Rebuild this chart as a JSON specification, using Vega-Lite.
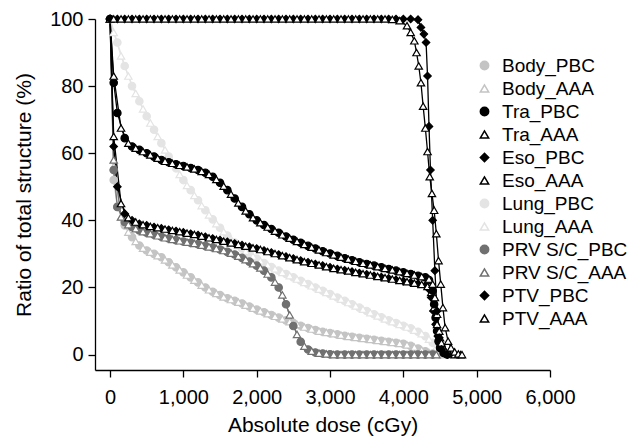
{
"$schema": "https://vega.github.io/schema/vega-lite/v6.json",
"width": 455,
"height": 351,
"autosize": {"type": "none"},
"padding": {"left": 95, "top": 19, "right": 89, "bottom": 71},
"background": "white",
"config": {
  "font": "Liberation Sans",
  "view": {"stroke": null},
  "axis": {"grid": false, "domainColor": "#000", "domainWidth": 1.3, "tickColor": "#000", "tickWidth": 1.3, "tickSize": 7, "labelFontSize": 20, "labelColor": "#000", "titleFontSize": 21, "titleFontWeight": "normal", "titleColor": "#000", "labelFont": "Liberation Sans", "titleFont": "Liberation Sans", "labelOverlap": false, "labelFlush": false},
  "legend": {"labelFontSize": 19, "labelColor": "#000", "labelFont": "Liberation Sans"}
},
"data": {"values": [
{"s":"Lung_PBC","d":0,"v":100},{"s":"Lung_PBC","d":100,"v":93},{"s":"Lung_PBC","d":200,"v":86},{"s":"Lung_PBC","d":300,"v":80},{"s":"Lung_PBC","d":400,"v":75.5},{"s":"Lung_PBC","d":500,"v":71},{"s":"Lung_PBC","d":600,"v":67},{"s":"Lung_PBC","d":700,"v":63},{"s":"Lung_PBC","d":800,"v":59},{"s":"Lung_PBC","d":900,"v":55.5},{"s":"Lung_PBC","d":1000,"v":52},{"s":"Lung_PBC","d":1100,"v":49},{"s":"Lung_PBC","d":1200,"v":46},{"s":"Lung_PBC","d":1300,"v":43},{"s":"Lung_PBC","d":1400,"v":40.3},{"s":"Lung_PBC","d":1500,"v":37.8},{"s":"Lung_PBC","d":1600,"v":35.5},{"s":"Lung_PBC","d":1700,"v":33.4},{"s":"Lung_PBC","d":1800,"v":31.6},{"s":"Lung_PBC","d":1900,"v":30},{"s":"Lung_PBC","d":2000,"v":28.6},{"s":"Lung_PBC","d":2100,"v":27.3},{"s":"Lung_PBC","d":2200,"v":26.1},{"s":"Lung_PBC","d":2300,"v":25},{"s":"Lung_PBC","d":2400,"v":24},{"s":"Lung_PBC","d":2500,"v":23},{"s":"Lung_PBC","d":2600,"v":22},{"s":"Lung_PBC","d":2700,"v":21},{"s":"Lung_PBC","d":2800,"v":20},{"s":"Lung_PBC","d":2900,"v":19},{"s":"Lung_PBC","d":3000,"v":18},{"s":"Lung_PBC","d":3100,"v":17},{"s":"Lung_PBC","d":3200,"v":16},{"s":"Lung_PBC","d":3300,"v":15},{"s":"Lung_PBC","d":3400,"v":14},{"s":"Lung_PBC","d":3500,"v":13},{"s":"Lung_PBC","d":3600,"v":12},{"s":"Lung_PBC","d":3700,"v":11.1},{"s":"Lung_PBC","d":3800,"v":10.2},{"s":"Lung_PBC","d":3900,"v":9.4},{"s":"Lung_PBC","d":4000,"v":8.6},{"s":"Lung_PBC","d":4100,"v":7.8},{"s":"Lung_PBC","d":4200,"v":6.8},{"s":"Lung_PBC","d":4300,"v":5.5},{"s":"Lung_PBC","d":4400,"v":3.5},{"s":"Lung_PBC","d":4500,"v":0.8},{"s":"Lung_PBC","d":4600,"v":0},
{"s":"Lung_AAA","d":0,"v":100},{"s":"Lung_AAA","d":50,"v":96},{"s":"Lung_AAA","d":150,"v":89},{"s":"Lung_AAA","d":250,"v":83},{"s":"Lung_AAA","d":350,"v":77.8},{"s":"Lung_AAA","d":450,"v":73.2},{"s":"Lung_AAA","d":550,"v":69},{"s":"Lung_AAA","d":650,"v":65},{"s":"Lung_AAA","d":750,"v":61},{"s":"Lung_AAA","d":850,"v":57.2},{"s":"Lung_AAA","d":950,"v":53.7},{"s":"Lung_AAA","d":1050,"v":50.4},{"s":"Lung_AAA","d":1150,"v":47.4},{"s":"Lung_AAA","d":1250,"v":44.4},{"s":"Lung_AAA","d":1350,"v":41.6},{"s":"Lung_AAA","d":1450,"v":39},{"s":"Lung_AAA","d":1550,"v":36.6},{"s":"Lung_AAA","d":1650,"v":34.4},{"s":"Lung_AAA","d":1750,"v":32.5},{"s":"Lung_AAA","d":1850,"v":30.8},{"s":"Lung_AAA","d":1950,"v":29.3},{"s":"Lung_AAA","d":2050,"v":27.9},{"s":"Lung_AAA","d":2150,"v":26.7},{"s":"Lung_AAA","d":2250,"v":25.5},{"s":"Lung_AAA","d":2350,"v":24.5},{"s":"Lung_AAA","d":2450,"v":23.5},{"s":"Lung_AAA","d":2550,"v":22.5},{"s":"Lung_AAA","d":2650,"v":21.5},{"s":"Lung_AAA","d":2750,"v":20.5},{"s":"Lung_AAA","d":2850,"v":19.5},{"s":"Lung_AAA","d":2950,"v":18.5},{"s":"Lung_AAA","d":3050,"v":17.5},{"s":"Lung_AAA","d":3150,"v":16.5},{"s":"Lung_AAA","d":3250,"v":15.5},{"s":"Lung_AAA","d":3350,"v":14.5},{"s":"Lung_AAA","d":3450,"v":13.5},{"s":"Lung_AAA","d":3550,"v":12.5},{"s":"Lung_AAA","d":3650,"v":11.5},{"s":"Lung_AAA","d":3750,"v":10.6},{"s":"Lung_AAA","d":3850,"v":9.8},{"s":"Lung_AAA","d":3950,"v":9},{"s":"Lung_AAA","d":4050,"v":8.2},{"s":"Lung_AAA","d":4150,"v":7.3},{"s":"Lung_AAA","d":4250,"v":6.2},{"s":"Lung_AAA","d":4350,"v":4.6},{"s":"Lung_AAA","d":4450,"v":2.2},{"s":"Lung_AAA","d":4550,"v":0.3},{"s":"Lung_AAA","d":4650,"v":0},
{"s":"Body_PBC","d":0,"v":100},{"s":"Body_PBC","d":50,"v":52},{"s":"Body_PBC","d":100,"v":44},{"s":"Body_PBC","d":200,"v":38.5},{"s":"Body_PBC","d":300,"v":35},{"s":"Body_PBC","d":400,"v":32.5},{"s":"Body_PBC","d":500,"v":31},{"s":"Body_PBC","d":600,"v":30},{"s":"Body_PBC","d":700,"v":29},{"s":"Body_PBC","d":800,"v":27.5},{"s":"Body_PBC","d":900,"v":26},{"s":"Body_PBC","d":1000,"v":24.5},{"s":"Body_PBC","d":1100,"v":23},{"s":"Body_PBC","d":1200,"v":21.5},{"s":"Body_PBC","d":1300,"v":20},{"s":"Body_PBC","d":1400,"v":18.7},{"s":"Body_PBC","d":1500,"v":17.7},{"s":"Body_PBC","d":1600,"v":16.8},{"s":"Body_PBC","d":1700,"v":16},{"s":"Body_PBC","d":1800,"v":15.2},{"s":"Body_PBC","d":1900,"v":14.3},{"s":"Body_PBC","d":2000,"v":13.4},{"s":"Body_PBC","d":2100,"v":12.6},{"s":"Body_PBC","d":2200,"v":11.8},{"s":"Body_PBC","d":2300,"v":11},{"s":"Body_PBC","d":2400,"v":10.2},{"s":"Body_PBC","d":2500,"v":9.4},{"s":"Body_PBC","d":2600,"v":8.6},{"s":"Body_PBC","d":2700,"v":7.9},{"s":"Body_PBC","d":2800,"v":7.3},{"s":"Body_PBC","d":2900,"v":6.8},{"s":"Body_PBC","d":3000,"v":6.4},{"s":"Body_PBC","d":3100,"v":6},{"s":"Body_PBC","d":3200,"v":5.6},{"s":"Body_PBC","d":3300,"v":5.3},{"s":"Body_PBC","d":3400,"v":5},{"s":"Body_PBC","d":3500,"v":4.7},{"s":"Body_PBC","d":3600,"v":4.4},{"s":"Body_PBC","d":3700,"v":4.1},{"s":"Body_PBC","d":3800,"v":3.8},{"s":"Body_PBC","d":3900,"v":3.5},{"s":"Body_PBC","d":4000,"v":3.2},{"s":"Body_PBC","d":4100,"v":2.6},{"s":"Body_PBC","d":4200,"v":1.8},{"s":"Body_PBC","d":4300,"v":1},{"s":"Body_PBC","d":4400,"v":0.3},{"s":"Body_PBC","d":4500,"v":0},
{"s":"Body_AAA","d":0,"v":100},{"s":"Body_AAA","d":50,"v":56},{"s":"Body_AAA","d":150,"v":41},{"s":"Body_AAA","d":250,"v":36.5},{"s":"Body_AAA","d":350,"v":33.7},{"s":"Body_AAA","d":450,"v":31.7},{"s":"Body_AAA","d":550,"v":30.5},{"s":"Body_AAA","d":650,"v":29.5},{"s":"Body_AAA","d":750,"v":28.2},{"s":"Body_AAA","d":850,"v":26.7},{"s":"Body_AAA","d":950,"v":25.2},{"s":"Body_AAA","d":1050,"v":23.7},{"s":"Body_AAA","d":1150,"v":22.2},{"s":"Body_AAA","d":1250,"v":20.7},{"s":"Body_AAA","d":1350,"v":19.3},{"s":"Body_AAA","d":1450,"v":18.2},{"s":"Body_AAA","d":1550,"v":17.2},{"s":"Body_AAA","d":1650,"v":16.4},{"s":"Body_AAA","d":1750,"v":15.6},{"s":"Body_AAA","d":1850,"v":14.7},{"s":"Body_AAA","d":1950,"v":13.8},{"s":"Body_AAA","d":2050,"v":13},{"s":"Body_AAA","d":2150,"v":12.2},{"s":"Body_AAA","d":2250,"v":11.4},{"s":"Body_AAA","d":2350,"v":10.6},{"s":"Body_AAA","d":2450,"v":9.8},{"s":"Body_AAA","d":2550,"v":9},{"s":"Body_AAA","d":2650,"v":8.2},{"s":"Body_AAA","d":2750,"v":7.6},{"s":"Body_AAA","d":2850,"v":7},{"s":"Body_AAA","d":2950,"v":6.6},{"s":"Body_AAA","d":3050,"v":6.2},{"s":"Body_AAA","d":3150,"v":5.8},{"s":"Body_AAA","d":3250,"v":5.4},{"s":"Body_AAA","d":3350,"v":5.1},{"s":"Body_AAA","d":3450,"v":4.8},{"s":"Body_AAA","d":3550,"v":4.5},{"s":"Body_AAA","d":3650,"v":4.2},{"s":"Body_AAA","d":3750,"v":3.9},{"s":"Body_AAA","d":3850,"v":3.6},{"s":"Body_AAA","d":3950,"v":3.3},{"s":"Body_AAA","d":4050,"v":2.9},{"s":"Body_AAA","d":4150,"v":2.2},{"s":"Body_AAA","d":4250,"v":1.4},{"s":"Body_AAA","d":4350,"v":0.6},{"s":"Body_AAA","d":4450,"v":0.1},{"s":"Body_AAA","d":4550,"v":0},
{"s":"PRV S/C_PBC","d":0,"v":100},{"s":"PRV S/C_PBC","d":50,"v":55},{"s":"PRV S/C_PBC","d":100,"v":44},{"s":"PRV S/C_PBC","d":200,"v":39.5},{"s":"PRV S/C_PBC","d":300,"v":38},{"s":"PRV S/C_PBC","d":400,"v":37},{"s":"PRV S/C_PBC","d":500,"v":36.3},{"s":"PRV S/C_PBC","d":600,"v":35.7},{"s":"PRV S/C_PBC","d":700,"v":35.1},{"s":"PRV S/C_PBC","d":800,"v":34.6},{"s":"PRV S/C_PBC","d":900,"v":34.1},{"s":"PRV S/C_PBC","d":1000,"v":33.7},{"s":"PRV S/C_PBC","d":1100,"v":33.3},{"s":"PRV S/C_PBC","d":1200,"v":32.9},{"s":"PRV S/C_PBC","d":1300,"v":32.4},{"s":"PRV S/C_PBC","d":1400,"v":31.9},{"s":"PRV S/C_PBC","d":1500,"v":31.3},{"s":"PRV S/C_PBC","d":1600,"v":30.6},{"s":"PRV S/C_PBC","d":1700,"v":29.8},{"s":"PRV S/C_PBC","d":1800,"v":28.8},{"s":"PRV S/C_PBC","d":1900,"v":27.7},{"s":"PRV S/C_PBC","d":2000,"v":26.5},{"s":"PRV S/C_PBC","d":2100,"v":25},{"s":"PRV S/C_PBC","d":2200,"v":23},{"s":"PRV S/C_PBC","d":2300,"v":20},{"s":"PRV S/C_PBC","d":2400,"v":15},{"s":"PRV S/C_PBC","d":2500,"v":8.5},{"s":"PRV S/C_PBC","d":2600,"v":3.8},{"s":"PRV S/C_PBC","d":2700,"v":1.5},{"s":"PRV S/C_PBC","d":2800,"v":0.6},{"s":"PRV S/C_PBC","d":2900,"v":0.3},{"s":"PRV S/C_PBC","d":3000,"v":0.1},{"s":"PRV S/C_PBC","d":3100,"v":0},{"s":"PRV S/C_PBC","d":3200,"v":0},{"s":"PRV S/C_PBC","d":3300,"v":0},{"s":"PRV S/C_PBC","d":3400,"v":0},{"s":"PRV S/C_PBC","d":3500,"v":0},{"s":"PRV S/C_PBC","d":3600,"v":0},{"s":"PRV S/C_PBC","d":3700,"v":0},{"s":"PRV S/C_PBC","d":3800,"v":0},{"s":"PRV S/C_PBC","d":3900,"v":0},{"s":"PRV S/C_PBC","d":4000,"v":0},{"s":"PRV S/C_PBC","d":4100,"v":0},{"s":"PRV S/C_PBC","d":4200,"v":0},{"s":"PRV S/C_PBC","d":4300,"v":0},{"s":"PRV S/C_PBC","d":4400,"v":0},
{"s":"PRV S/C_AAA","d":0,"v":100},{"s":"PRV S/C_AAA","d":50,"v":58},{"s":"PRV S/C_AAA","d":150,"v":41},{"s":"PRV S/C_AAA","d":250,"v":38.7},{"s":"PRV S/C_AAA","d":350,"v":37.5},{"s":"PRV S/C_AAA","d":450,"v":36.6},{"s":"PRV S/C_AAA","d":550,"v":36},{"s":"PRV S/C_AAA","d":650,"v":35.4},{"s":"PRV S/C_AAA","d":750,"v":34.8},{"s":"PRV S/C_AAA","d":850,"v":34.3},{"s":"PRV S/C_AAA","d":950,"v":33.9},{"s":"PRV S/C_AAA","d":1050,"v":33.5},{"s":"PRV S/C_AAA","d":1150,"v":33.1},{"s":"PRV S/C_AAA","d":1250,"v":32.6},{"s":"PRV S/C_AAA","d":1350,"v":32.1},{"s":"PRV S/C_AAA","d":1450,"v":31.6},{"s":"PRV S/C_AAA","d":1550,"v":31},{"s":"PRV S/C_AAA","d":1650,"v":30.2},{"s":"PRV S/C_AAA","d":1750,"v":29.3},{"s":"PRV S/C_AAA","d":1850,"v":28.3},{"s":"PRV S/C_AAA","d":1950,"v":27.1},{"s":"PRV S/C_AAA","d":2050,"v":25.8},{"s":"PRV S/C_AAA","d":2150,"v":24},{"s":"PRV S/C_AAA","d":2250,"v":21.6},{"s":"PRV S/C_AAA","d":2350,"v":17.8},{"s":"PRV S/C_AAA","d":2450,"v":11.8},{"s":"PRV S/C_AAA","d":2550,"v":6},{"s":"PRV S/C_AAA","d":2650,"v":2.5},{"s":"PRV S/C_AAA","d":2750,"v":1},{"s":"PRV S/C_AAA","d":2850,"v":0.4},{"s":"PRV S/C_AAA","d":2950,"v":0.2},{"s":"PRV S/C_AAA","d":3050,"v":0},{"s":"PRV S/C_AAA","d":3150,"v":0},{"s":"PRV S/C_AAA","d":3250,"v":0},{"s":"PRV S/C_AAA","d":3350,"v":0},{"s":"PRV S/C_AAA","d":3450,"v":0},{"s":"PRV S/C_AAA","d":3550,"v":0},{"s":"PRV S/C_AAA","d":3650,"v":0},{"s":"PRV S/C_AAA","d":3750,"v":0},{"s":"PRV S/C_AAA","d":3850,"v":0},{"s":"PRV S/C_AAA","d":3950,"v":0},{"s":"PRV S/C_AAA","d":4050,"v":0},{"s":"PRV S/C_AAA","d":4150,"v":0},{"s":"PRV S/C_AAA","d":4250,"v":0},{"s":"PRV S/C_AAA","d":4350,"v":0},{"s":"PRV S/C_AAA","d":4450,"v":0},
{"s":"Eso_PBC","d":0,"v":100},{"s":"Eso_PBC","d":50,"v":62},{"s":"Eso_PBC","d":100,"v":50},{"s":"Eso_PBC","d":200,"v":42},{"s":"Eso_PBC","d":300,"v":40},{"s":"Eso_PBC","d":400,"v":39},{"s":"Eso_PBC","d":500,"v":38.5},{"s":"Eso_PBC","d":600,"v":38},{"s":"Eso_PBC","d":700,"v":37.6},{"s":"Eso_PBC","d":800,"v":37.2},{"s":"Eso_PBC","d":900,"v":36.8},{"s":"Eso_PBC","d":1000,"v":36.4},{"s":"Eso_PBC","d":1100,"v":36},{"s":"Eso_PBC","d":1200,"v":35.6},{"s":"Eso_PBC","d":1300,"v":35.1},{"s":"Eso_PBC","d":1400,"v":34.6},{"s":"Eso_PBC","d":1500,"v":34.1},{"s":"Eso_PBC","d":1600,"v":33.6},{"s":"Eso_PBC","d":1700,"v":33.1},{"s":"Eso_PBC","d":1800,"v":32.6},{"s":"Eso_PBC","d":1900,"v":32.1},{"s":"Eso_PBC","d":2000,"v":31.6},{"s":"Eso_PBC","d":2100,"v":31},{"s":"Eso_PBC","d":2200,"v":30.4},{"s":"Eso_PBC","d":2300,"v":29.8},{"s":"Eso_PBC","d":2400,"v":29.2},{"s":"Eso_PBC","d":2500,"v":28.6},{"s":"Eso_PBC","d":2600,"v":28},{"s":"Eso_PBC","d":2700,"v":27.5},{"s":"Eso_PBC","d":2800,"v":27},{"s":"Eso_PBC","d":2900,"v":26.5},{"s":"Eso_PBC","d":3000,"v":26},{"s":"Eso_PBC","d":3100,"v":25.5},{"s":"Eso_PBC","d":3200,"v":25.1},{"s":"Eso_PBC","d":3300,"v":24.7},{"s":"Eso_PBC","d":3400,"v":24.3},{"s":"Eso_PBC","d":3500,"v":23.9},{"s":"Eso_PBC","d":3600,"v":23.5},{"s":"Eso_PBC","d":3700,"v":23.1},{"s":"Eso_PBC","d":3800,"v":22.7},{"s":"Eso_PBC","d":3900,"v":22.3},{"s":"Eso_PBC","d":4000,"v":21.9},{"s":"Eso_PBC","d":4100,"v":21.5},{"s":"Eso_PBC","d":4200,"v":21.1},{"s":"Eso_PBC","d":4300,"v":20.6},{"s":"Eso_PBC","d":4350,"v":19.5},{"s":"Eso_PBC","d":4380,"v":17},{"s":"Eso_PBC","d":4410,"v":13},{"s":"Eso_PBC","d":4440,"v":9},{"s":"Eso_PBC","d":4470,"v":5.5},{"s":"Eso_PBC","d":4500,"v":3},{"s":"Eso_PBC","d":4550,"v":1},{"s":"Eso_PBC","d":4600,"v":0},
{"s":"Eso_AAA","d":0,"v":100},{"s":"Eso_AAA","d":50,"v":65},{"s":"Eso_AAA","d":150,"v":45},{"s":"Eso_AAA","d":250,"v":40.8},{"s":"Eso_AAA","d":350,"v":39.5},{"s":"Eso_AAA","d":450,"v":38.7},{"s":"Eso_AAA","d":550,"v":38.2},{"s":"Eso_AAA","d":650,"v":37.8},{"s":"Eso_AAA","d":750,"v":37.4},{"s":"Eso_AAA","d":850,"v":37},{"s":"Eso_AAA","d":950,"v":36.6},{"s":"Eso_AAA","d":1050,"v":36.2},{"s":"Eso_AAA","d":1150,"v":35.8},{"s":"Eso_AAA","d":1250,"v":35.3},{"s":"Eso_AAA","d":1350,"v":34.8},{"s":"Eso_AAA","d":1450,"v":34.3},{"s":"Eso_AAA","d":1550,"v":33.8},{"s":"Eso_AAA","d":1650,"v":33.3},{"s":"Eso_AAA","d":1750,"v":32.8},{"s":"Eso_AAA","d":1850,"v":32.3},{"s":"Eso_AAA","d":1950,"v":31.8},{"s":"Eso_AAA","d":2050,"v":31.3},{"s":"Eso_AAA","d":2150,"v":30.7},{"s":"Eso_AAA","d":2250,"v":30.1},{"s":"Eso_AAA","d":2350,"v":29.5},{"s":"Eso_AAA","d":2450,"v":28.9},{"s":"Eso_AAA","d":2550,"v":28.3},{"s":"Eso_AAA","d":2650,"v":27.7},{"s":"Eso_AAA","d":2750,"v":27.2},{"s":"Eso_AAA","d":2850,"v":26.7},{"s":"Eso_AAA","d":2950,"v":26.2},{"s":"Eso_AAA","d":3050,"v":25.7},{"s":"Eso_AAA","d":3150,"v":25.3},{"s":"Eso_AAA","d":3250,"v":24.9},{"s":"Eso_AAA","d":3350,"v":24.5},{"s":"Eso_AAA","d":3450,"v":24.1},{"s":"Eso_AAA","d":3550,"v":23.7},{"s":"Eso_AAA","d":3650,"v":23.3},{"s":"Eso_AAA","d":3750,"v":22.9},{"s":"Eso_AAA","d":3850,"v":22.5},{"s":"Eso_AAA","d":3950,"v":22.1},{"s":"Eso_AAA","d":4050,"v":21.7},{"s":"Eso_AAA","d":4150,"v":21.3},{"s":"Eso_AAA","d":4250,"v":20.9},{"s":"Eso_AAA","d":4330,"v":20.3},{"s":"Eso_AAA","d":4380,"v":18.5},{"s":"Eso_AAA","d":4420,"v":14},{"s":"Eso_AAA","d":4460,"v":9},{"s":"Eso_AAA","d":4500,"v":5},{"s":"Eso_AAA","d":4550,"v":2},{"s":"Eso_AAA","d":4620,"v":0.7},{"s":"Eso_AAA","d":4700,"v":0.2},{"s":"Eso_AAA","d":4780,"v":0},
{"s":"Tra_PBC","d":0,"v":100},{"s":"Tra_PBC","d":50,"v":81},{"s":"Tra_PBC","d":100,"v":72},{"s":"Tra_PBC","d":200,"v":64.5},{"s":"Tra_PBC","d":300,"v":62},{"s":"Tra_PBC","d":400,"v":61},{"s":"Tra_PBC","d":500,"v":60},{"s":"Tra_PBC","d":600,"v":59},{"s":"Tra_PBC","d":700,"v":58},{"s":"Tra_PBC","d":800,"v":57.3},{"s":"Tra_PBC","d":900,"v":56.7},{"s":"Tra_PBC","d":1000,"v":56.2},{"s":"Tra_PBC","d":1100,"v":55.6},{"s":"Tra_PBC","d":1200,"v":55},{"s":"Tra_PBC","d":1300,"v":54.2},{"s":"Tra_PBC","d":1400,"v":53},{"s":"Tra_PBC","d":1500,"v":51.2},{"s":"Tra_PBC","d":1600,"v":49},{"s":"Tra_PBC","d":1700,"v":46.5},{"s":"Tra_PBC","d":1800,"v":44},{"s":"Tra_PBC","d":1900,"v":41.8},{"s":"Tra_PBC","d":2000,"v":40},{"s":"Tra_PBC","d":2100,"v":38.6},{"s":"Tra_PBC","d":2200,"v":37.4},{"s":"Tra_PBC","d":2300,"v":36.3},{"s":"Tra_PBC","d":2400,"v":35.2},{"s":"Tra_PBC","d":2500,"v":34.2},{"s":"Tra_PBC","d":2600,"v":33.3},{"s":"Tra_PBC","d":2700,"v":32.4},{"s":"Tra_PBC","d":2800,"v":31.6},{"s":"Tra_PBC","d":2900,"v":30.8},{"s":"Tra_PBC","d":3000,"v":30.1},{"s":"Tra_PBC","d":3100,"v":29.4},{"s":"Tra_PBC","d":3200,"v":28.7},{"s":"Tra_PBC","d":3300,"v":28.1},{"s":"Tra_PBC","d":3400,"v":27.5},{"s":"Tra_PBC","d":3500,"v":27},{"s":"Tra_PBC","d":3600,"v":26.5},{"s":"Tra_PBC","d":3700,"v":26},{"s":"Tra_PBC","d":3800,"v":25.5},{"s":"Tra_PBC","d":3900,"v":25},{"s":"Tra_PBC","d":4000,"v":24.5},{"s":"Tra_PBC","d":4100,"v":24},{"s":"Tra_PBC","d":4200,"v":23.5},{"s":"Tra_PBC","d":4300,"v":23},{"s":"Tra_PBC","d":4350,"v":22.2},{"s":"Tra_PBC","d":4400,"v":19},{"s":"Tra_PBC","d":4420,"v":15},{"s":"Tra_PBC","d":4440,"v":11},{"s":"Tra_PBC","d":4460,"v":7},{"s":"Tra_PBC","d":4480,"v":4},{"s":"Tra_PBC","d":4500,"v":2},{"s":"Tra_PBC","d":4550,"v":0.5},{"s":"Tra_PBC","d":4600,"v":0},
{"s":"Tra_AAA","d":0,"v":100},{"s":"Tra_AAA","d":50,"v":83},{"s":"Tra_AAA","d":150,"v":67.5},{"s":"Tra_AAA","d":250,"v":63},{"s":"Tra_AAA","d":350,"v":61.5},{"s":"Tra_AAA","d":450,"v":60.5},{"s":"Tra_AAA","d":550,"v":59.5},{"s":"Tra_AAA","d":650,"v":58.5},{"s":"Tra_AAA","d":750,"v":57.6},{"s":"Tra_AAA","d":850,"v":57},{"s":"Tra_AAA","d":950,"v":56.4},{"s":"Tra_AAA","d":1050,"v":55.9},{"s":"Tra_AAA","d":1150,"v":55.3},{"s":"Tra_AAA","d":1250,"v":54.6},{"s":"Tra_AAA","d":1350,"v":53.7},{"s":"Tra_AAA","d":1450,"v":52.2},{"s":"Tra_AAA","d":1550,"v":50.2},{"s":"Tra_AAA","d":1650,"v":47.8},{"s":"Tra_AAA","d":1750,"v":45.2},{"s":"Tra_AAA","d":1850,"v":42.8},{"s":"Tra_AAA","d":1950,"v":40.8},{"s":"Tra_AAA","d":2050,"v":39.3},{"s":"Tra_AAA","d":2150,"v":38},{"s":"Tra_AAA","d":2250,"v":36.8},{"s":"Tra_AAA","d":2350,"v":35.7},{"s":"Tra_AAA","d":2450,"v":34.7},{"s":"Tra_AAA","d":2550,"v":33.7},{"s":"Tra_AAA","d":2650,"v":32.8},{"s":"Tra_AAA","d":2750,"v":32},{"s":"Tra_AAA","d":2850,"v":31.2},{"s":"Tra_AAA","d":2950,"v":30.4},{"s":"Tra_AAA","d":3050,"v":29.7},{"s":"Tra_AAA","d":3150,"v":29},{"s":"Tra_AAA","d":3250,"v":28.4},{"s":"Tra_AAA","d":3350,"v":27.8},{"s":"Tra_AAA","d":3450,"v":27.2},{"s":"Tra_AAA","d":3550,"v":26.7},{"s":"Tra_AAA","d":3650,"v":26.2},{"s":"Tra_AAA","d":3750,"v":25.7},{"s":"Tra_AAA","d":3850,"v":25.2},{"s":"Tra_AAA","d":3950,"v":24.7},{"s":"Tra_AAA","d":4050,"v":24.2},{"s":"Tra_AAA","d":4150,"v":23.7},{"s":"Tra_AAA","d":4250,"v":23.2},{"s":"Tra_AAA","d":4350,"v":22.5},{"s":"Tra_AAA","d":4400,"v":21},{"s":"Tra_AAA","d":4430,"v":17},{"s":"Tra_AAA","d":4460,"v":12},{"s":"Tra_AAA","d":4490,"v":7},{"s":"Tra_AAA","d":4520,"v":3.5},{"s":"Tra_AAA","d":4560,"v":1.5},{"s":"Tra_AAA","d":4620,"v":0.5},{"s":"Tra_AAA","d":4700,"v":0},
{"s":"PTV_PBC","d":0,"v":100},{"s":"PTV_PBC","d":100,"v":100},{"s":"PTV_PBC","d":200,"v":100},{"s":"PTV_PBC","d":300,"v":100},{"s":"PTV_PBC","d":400,"v":100},{"s":"PTV_PBC","d":500,"v":100},{"s":"PTV_PBC","d":600,"v":100},{"s":"PTV_PBC","d":700,"v":100},{"s":"PTV_PBC","d":800,"v":100},{"s":"PTV_PBC","d":900,"v":100},{"s":"PTV_PBC","d":1000,"v":100},{"s":"PTV_PBC","d":1100,"v":100},{"s":"PTV_PBC","d":1200,"v":100},{"s":"PTV_PBC","d":1300,"v":100},{"s":"PTV_PBC","d":1400,"v":100},{"s":"PTV_PBC","d":1500,"v":100},{"s":"PTV_PBC","d":1600,"v":100},{"s":"PTV_PBC","d":1700,"v":100},{"s":"PTV_PBC","d":1800,"v":100},{"s":"PTV_PBC","d":1900,"v":100},{"s":"PTV_PBC","d":2000,"v":100},{"s":"PTV_PBC","d":2100,"v":100},{"s":"PTV_PBC","d":2200,"v":100},{"s":"PTV_PBC","d":2300,"v":100},{"s":"PTV_PBC","d":2400,"v":100},{"s":"PTV_PBC","d":2500,"v":100},{"s":"PTV_PBC","d":2600,"v":100},{"s":"PTV_PBC","d":2700,"v":100},{"s":"PTV_PBC","d":2800,"v":100},{"s":"PTV_PBC","d":2900,"v":100},{"s":"PTV_PBC","d":3000,"v":100},{"s":"PTV_PBC","d":3100,"v":100},{"s":"PTV_PBC","d":3200,"v":100},{"s":"PTV_PBC","d":3300,"v":100},{"s":"PTV_PBC","d":3400,"v":100},{"s":"PTV_PBC","d":3500,"v":100},{"s":"PTV_PBC","d":3600,"v":100},{"s":"PTV_PBC","d":3700,"v":100},{"s":"PTV_PBC","d":3800,"v":100},{"s":"PTV_PBC","d":3900,"v":100},{"s":"PTV_PBC","d":4000,"v":100},{"s":"PTV_PBC","d":4100,"v":100},{"s":"PTV_PBC","d":4200,"v":99.8},{"s":"PTV_PBC","d":4240,"v":97.5},{"s":"PTV_PBC","d":4280,"v":95.5},{"s":"PTV_PBC","d":4310,"v":93},{"s":"PTV_PBC","d":4330,"v":83},{"s":"PTV_PBC","d":4350,"v":68},{"s":"PTV_PBC","d":4370,"v":55},{"s":"PTV_PBC","d":4400,"v":40},{"s":"PTV_PBC","d":4430,"v":25},{"s":"PTV_PBC","d":4460,"v":13},{"s":"PTV_PBC","d":4490,"v":5},{"s":"PTV_PBC","d":4520,"v":1.5},{"s":"PTV_PBC","d":4560,"v":0.3},{"s":"PTV_PBC","d":4600,"v":0},
{"s":"PTV_AAA","d":50,"v":100},{"s":"PTV_AAA","d":150,"v":100},{"s":"PTV_AAA","d":250,"v":100},{"s":"PTV_AAA","d":350,"v":100},{"s":"PTV_AAA","d":450,"v":100},{"s":"PTV_AAA","d":550,"v":100},{"s":"PTV_AAA","d":650,"v":100},{"s":"PTV_AAA","d":750,"v":100},{"s":"PTV_AAA","d":850,"v":100},{"s":"PTV_AAA","d":950,"v":100},{"s":"PTV_AAA","d":1050,"v":100},{"s":"PTV_AAA","d":1150,"v":100},{"s":"PTV_AAA","d":1250,"v":100},{"s":"PTV_AAA","d":1350,"v":100},{"s":"PTV_AAA","d":1450,"v":100},{"s":"PTV_AAA","d":1550,"v":100},{"s":"PTV_AAA","d":1650,"v":100},{"s":"PTV_AAA","d":1750,"v":100},{"s":"PTV_AAA","d":1850,"v":100},{"s":"PTV_AAA","d":1950,"v":100},{"s":"PTV_AAA","d":2050,"v":100},{"s":"PTV_AAA","d":2150,"v":100},{"s":"PTV_AAA","d":2250,"v":100},{"s":"PTV_AAA","d":2350,"v":100},{"s":"PTV_AAA","d":2450,"v":100},{"s":"PTV_AAA","d":2550,"v":100},{"s":"PTV_AAA","d":2650,"v":100},{"s":"PTV_AAA","d":2750,"v":100},{"s":"PTV_AAA","d":2850,"v":100},{"s":"PTV_AAA","d":2950,"v":100},{"s":"PTV_AAA","d":3050,"v":100},{"s":"PTV_AAA","d":3150,"v":100},{"s":"PTV_AAA","d":3250,"v":100},{"s":"PTV_AAA","d":3350,"v":100},{"s":"PTV_AAA","d":3450,"v":100},{"s":"PTV_AAA","d":3550,"v":100},{"s":"PTV_AAA","d":3650,"v":100},{"s":"PTV_AAA","d":3750,"v":100},{"s":"PTV_AAA","d":3850,"v":99.9},{"s":"PTV_AAA","d":3950,"v":99.5},{"s":"PTV_AAA","d":4050,"v":98},{"s":"PTV_AAA","d":4100,"v":96},{"s":"PTV_AAA","d":4150,"v":93.5},{"s":"PTV_AAA","d":4180,"v":90},{"s":"PTV_AAA","d":4210,"v":86},{"s":"PTV_AAA","d":4240,"v":81},{"s":"PTV_AAA","d":4270,"v":74},{"s":"PTV_AAA","d":4300,"v":67.5},{"s":"PTV_AAA","d":4330,"v":60.5},{"s":"PTV_AAA","d":4360,"v":53},{"s":"PTV_AAA","d":4390,"v":48},{"s":"PTV_AAA","d":4420,"v":43},{"s":"PTV_AAA","d":4450,"v":36},{"s":"PTV_AAA","d":4480,"v":28},{"s":"PTV_AAA","d":4510,"v":21},{"s":"PTV_AAA","d":4540,"v":14},{"s":"PTV_AAA","d":4570,"v":8},{"s":"PTV_AAA","d":4610,"v":4},{"s":"PTV_AAA","d":4650,"v":2},{"s":"PTV_AAA","d":4700,"v":0.8},{"s":"PTV_AAA","d":4750,"v":0.2},{"s":"PTV_AAA","d":4800,"v":0}
]},
"layer": [
  {
    "mark": {"type": "line", "strokeWidth": 1.3},
    "encoding": {
      "x": {"field": "d", "type": "quantitative", "scale": {"domain": [-205, 6000], "nice": false, "zero": false},
            "axis": {"values": [0, 1000, 2000, 3000, 4000, 5000, 6000], "format": ",.0f", "title": "Absolute dose (cGy)", "titlePadding": 7, "labelPadding": 10}},
      "y": {"field": "v", "type": "quantitative", "scale": {"domain": [-4.6, 100], "nice": false, "zero": false},
            "axis": {"values": [0, 20, 40, 60, 80, 100], "format": ".0f", "title": "Ratio of total structure (%)", "titlePadding": 15, "labelPadding": 5}},
      "color": {"field": "s", "type": "nominal",
                "scale": {"domain": ["Body_PBC","Body_AAA","Tra_PBC","Tra_AAA","Eso_PBC","Eso_AAA","Lung_PBC","Lung_AAA","PRV S/C_PBC","PRV S/C_AAA","PTV_PBC","PTV_AAA","~"],
                          "range": ["#c4c4c4","#c4c4c4","#000000","#000000","#000000","#000000","#e4e4e4","#e4e4e4","#707070","#707070","#000000","#000000","#000000"]},
                "legend": null}
    }
  },
  {
    "mark": {"type": "point", "filled": true, "size": 55, "strokeWidth": 1.2, "opacity": 1},
    "encoding": {
      "x": {"field": "d", "type": "quantitative"},
      "y": {"field": "v", "type": "quantitative"},
      "shape": {"field": "s", "type": "nominal",
                "scale": {"domain": ["Body_PBC","Body_AAA","Tra_PBC","Tra_AAA","Eso_PBC","Eso_AAA","Lung_PBC","Lung_AAA","PRV S/C_PBC","PRV S/C_AAA","PTV_PBC","PTV_AAA"],
                          "range": ["circle","triangle-up","circle","triangle-up","diamond","triangle-up","circle","triangle-up","circle","triangle-up","diamond","triangle-up"]},
                "legend": {"title": null, "orient": "none", "legendX": 380, "legendY": 37, "padding": 0, "symbolSize": 70, "symbolStrokeWidth": 1.5, "labelOffset": 8, "rowPadding": 3, "labelFontSize": 19, "labelLimit": 200}},
      "fill": {"field": "s", "type": "nominal",
               "scale": {"domain": ["Body_PBC","Body_AAA","Tra_PBC","Tra_AAA","Eso_PBC","Eso_AAA","Lung_PBC","Lung_AAA","PRV S/C_PBC","PRV S/C_AAA","PTV_PBC","PTV_AAA"],
                         "range": ["#c4c4c4","#ffffff","#000000","#ffffff","#000000","#ffffff","#e4e4e4","#ffffff","#707070","#ffffff","#000000","#ffffff"]}},
      "stroke": {"field": "s", "type": "nominal",
                 "scale": {"domain": ["Body_PBC","Body_AAA","Tra_PBC","Tra_AAA","Eso_PBC","Eso_AAA","Lung_PBC","Lung_AAA","PRV S/C_PBC","PRV S/C_AAA","PTV_PBC","PTV_AAA"],
                           "range": ["#c4c4c4","#c4c4c4","#000000","#000000","#000000","#000000","#e4e4e4","#e4e4e4","#707070","#707070","#000000","#000000"]}}
    }
  }
]
}
